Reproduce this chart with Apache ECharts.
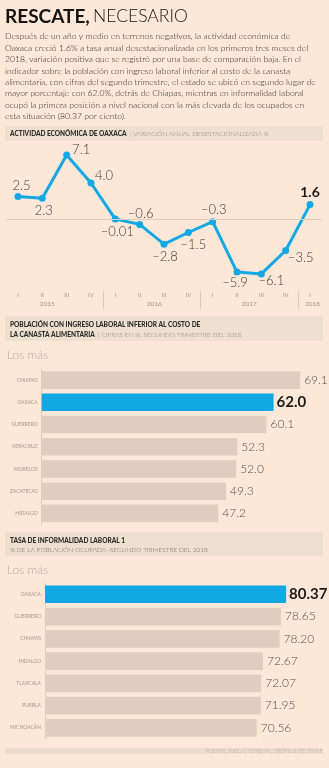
<!DOCTYPE html>
<html><head><meta charset="utf-8">
<script src="https://cdn.jsdelivr.net/npm/echarts@6/dist/echarts.min.js"></script>
<style>html,body{margin:0;padding:0;background:#fde8d7;}#c{width:329px;height:768px;}</style>
</head><body><div id="c"></div>
<script>
const quarters = ['I','II','III','IV','I','II','III','IV','I','II','III','IV','I'];
const actividad = [2.5, 2.3, 7.1, 4.0, -0.01, -0.6, -2.8, -1.5, -0.3, -5.9, -6.1, -3.5, 1.6];
const years = ['2015','2016','2017','2018'];
const estados1 = ['CHIAPAS','OAXACA','GUERRERO','VERACRUZ','MORELOS','ZACATECAS','HIDALGO'];
const pobreza = [69.1, 62.0, 60.1, 52.3, 52.0, 49.3, 47.2];
const estados2 = ['OAXACA','GUERRERO','CHIAPAS','HIDALGO','TLAXCALA','PUEBLA','MICHOACÁN'];
const informalidad = [80.37, 78.65, 78.20, 72.67, 72.07, 71.95, 70.56];

// layout helpers (not data)
const labelOffsets = [[3.5,-11],[1.5,13],[14.5,-5.6],[13,-7.3],[2,12.7],[1,-11],[1,12.7],[5,12],[1,-12],[-2,10.7],[10,7.4],[15,7.7],[0,-11.7]];
const yearTickPos = [1.7, 6.1, 10, 12.6];
const paragraph = [
 'Después de un año y medio en terrenos negativos, la actividad económica de',
 'Oaxaca creció 1.6% a tasa anual desestacionalizada en los primeros tres meses del',
 '2018, variación positiva que se registró por una base de comparación baja. En el',
 'indicador sobre la población con ingreso laboral inferior al costo de la canasta',
 'alimentaria, con cifras del segundo trimestre, el estado se ubicó en segundo lugar de',
 'mayor porcentaje con 62.0%, detrás de Chiapas, mientras en informalidad laboral',
 'ocupó la primera posición a nivel nacional con la más elevada de los ocupados en',
 'esta situación (80.37 por ciento).'
];

const F = 'Lato, "Noto Sans", sans-serif';
const BLUE = '#12a8e3';
const BAR = '#dfcebe';
const BOX = '#eedfcf';
const BG = '#fde8d7';

function fmtAct(v){ const s = Math.abs(v) < 0.1 ? Math.abs(v).toFixed(2) : Math.abs(v).toFixed(1); return (v < 0 ? '–' : '') + s; }

const lineData = actividad.map((v,i)=>{
  const last = i === actividad.length-1;
  return {value:v, label:{show:true, position:'inside', offset:labelOffsets[i], formatter:fmtAct(v),
    fontFamily:F, fontSize: last?14:13, fontWeight: last?'bold':300, color: last?'#1a1a1a':'#3d3a38'}};
});

function barData(vals, hi, dec){
  return vals.map((v,i)=>({value:v,
    itemStyle:{color: i===hi?BLUE:BAR},
    label:{show:true, position:'right', distance: i===hi?3:4, formatter:v.toFixed(dec), fontFamily:F,
      fontSize: i===hi?15:12, fontWeight: i===hi?'bold':300, color: i===hi?'#1a1a1a':'#55504b'}}));
}

const graphic = [];
graphic.push({type:'text', left:5, top:7, style:{text:'{b|RESCATE,} {l|NECESARIO}', rich:{
  b:{fontFamily:F, fontSize:19, fontWeight:'bold', fill:'#141414'},
  l:{fontFamily:F, fontSize:17.5, fontWeight:300, fill:'#141414'}}}});
paragraph.forEach((t,i)=>{
  graphic.push({type:'text', x:5, y:36.7+i*11.4, style:{text:t, fontFamily:F, fontSize:8.6, fontWeight:300, fill:'#262626', textVerticalAlign:'middle'}});
});
// header boxes
graphic.push({type:'rect', shape:{x:5,y:126,width:318,height:15}, style:{fill:BOX}});
graphic.push({type:'text', x:10, y:133.5, style:{text:'{b|ACTIVIDAD ECONÓMICA DE OAXACA} {s|| VARIACIÓN ANUAL DESESTACIONALIZADA %}', textVerticalAlign:'middle', rich:{
  b:{fontFamily:F, fontSize:6.5, fontWeight:900, fill:'#2b2b2b'}, s:{fontFamily:F, fontSize:6.5, fontWeight:300, fill:'#8a8078'}}}});

graphic.push({type:'rect', shape:{x:5,y:316,width:318,height:25}, style:{fill:BOX}});
graphic.push({type:'text', x:10, y:325, style:{text:'POBLACIÓN CON INGRESO LABORAL INFERIOR AL COSTO DE', textVerticalAlign:'middle', fontFamily:F, fontSize:6.5, fontWeight:900, fill:'#2b2b2b'}});
graphic.push({type:'text', x:10, y:334.5, style:{text:'{b|LA CANASTA ALIMENTARIA} {s|| CIFRAS EN %, SEGUNDO TRIMESTRE DEL 2018}', textVerticalAlign:'middle', rich:{
  b:{fontFamily:F, fontSize:6.5, fontWeight:900, fill:'#2b2b2b'}, s:{fontFamily:F, fontSize:6.5, fontWeight:300, fill:'#8a8078'}}}});
graphic.push({type:'text', x:7, y:355, style:{text:'Los más', textVerticalAlign:'middle', fontFamily:F, fontSize:12, fontWeight:300, fill:'#b5a99d'}});

graphic.push({type:'rect', shape:{x:5,y:532,width:318,height:24}, style:{fill:BOX}});
graphic.push({type:'text', x:10, y:540.5, style:{text:'TASA DE INFORMALIDAD LABORAL 1', textVerticalAlign:'middle', fontFamily:F, fontSize:6.5, fontWeight:900, fill:'#2b2b2b'}});
graphic.push({type:'text', x:10, y:550, style:{text:'% DE LA POBLACIÓN OCUPADA–SEGUNDO TRIMESTRE DEL 2018', textVerticalAlign:'middle', fontFamily:F, fontSize:6.5, fontWeight:300, fill:'#6a625b'}});
graphic.push({type:'text', x:7, y:570.5, style:{text:'Los más', textVerticalAlign:'middle', fontFamily:F, fontSize:12, fontWeight:300, fill:'#b5a99d'}});

graphic.push({type:'rect', shape:{x:5,y:748,width:318,height:5.5}, style:{fill:'#ecdccb'}});
graphic.push({type:'text', x:323, y:751, style:{text:'FUENTE: INEGI Y CONEVAL. GRÁFICO: EE: STAFF.', textAlign:'right', textVerticalAlign:'middle', fontFamily:F, fontSize:5.2, fontWeight:300, fill:'#a89a8c'}});

const chart = echarts.init(document.getElementById('c'), null, {renderer:'canvas'});
chart.setOption({
  backgroundColor: BG,
  animation:false,
  graphic: graphic,
  grid:[
    {left:5.8, top:147, width:316.4, height:144},
    {left:41.7, top:369, width:280.5, height:155.5},
    {left:45, top:583.2, width:276, height:155.8}
  ],
  xAxis:[
    {type:'category', gridIndex:0, data:quarters, boundaryGap:true,
      axisLine:{show:false}, axisTick:{show:false},
      axisLabel:{fontFamily:F, fontSize:6, color:'#a39689', margin:1, interval:0}},
    {type:'value', gridIndex:0, min:0, max:13, position:'bottom',
      axisLine:{show:false}, splitLine:{show:false},
      axisTick:{show:true, customValues:[4,8,12], length:18, lineStyle:{color:'#d9cabb', width:1}},
      axisLabel:{customValues:yearTickPos, margin:9, fontFamily:F, fontSize:6.5, color:'#9c9084',
        formatter:(v)=>years[yearTickPos.indexOf(v)] || ''}},
    {type:'value', gridIndex:1, min:0, max:75, show:false},
    {type:'value', gridIndex:2, min:0, max:92, show:false}
  ],
  yAxis:[
    {type:'value', gridIndex:0, min:-8, max:8, show:false},
    {type:'category', gridIndex:1, data:estados1, inverse:true,
      axisLine:{show:true, lineStyle:{color:'#dccbbb'}}, axisTick:{show:false},
      axisLabel:{fontFamily:F, fontSize:5, color:'#a39689', margin:4}},
    {type:'category', gridIndex:2, data:estados2, inverse:true,
      axisLine:{show:true, lineStyle:{color:'#dccbbb'}}, axisTick:{show:false},
      axisLabel:{fontFamily:F, fontSize:5, color:'#a39689', margin:4}}
  ],
  series:[
    {type:'line', xAxisIndex:0, yAxisIndex:0, data:lineData, symbol:'circle', symbolSize:7,
      lineStyle:{color:BLUE, width:3}, itemStyle:{color:BLUE},
      markLine:{silent:true, symbol:'none', label:{show:false}, lineStyle:{color:'#dccdbf', width:1, type:'solid'}, data:[{yAxis:0}]}},
    {type:'bar', xAxisIndex:2, yAxisIndex:1, data:barData(pobreza,1,1), barCategoryGap:'21%'},
    {type:'bar', xAxisIndex:3, yAxisIndex:2, data:barData(informalidad,0,2), barCategoryGap:'21%'}
  ]
});
</script></body></html>
